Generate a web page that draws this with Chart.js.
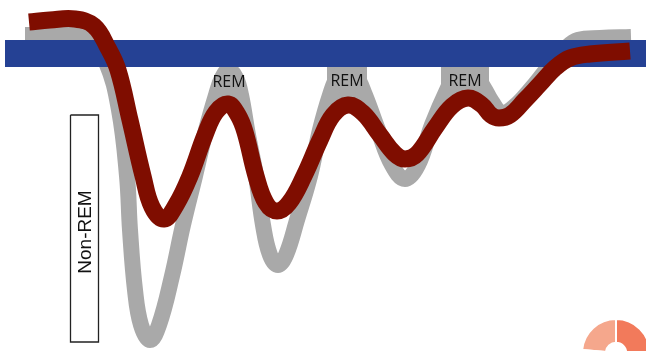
<!DOCTYPE html>
<html>
<head>
<meta charset="utf-8">
<script src="https://cdn.jsdelivr.net/npm/chart.js@4"></script>
<style>
html, body { margin: 0; padding: 0; background: #fff; overflow: hidden; width: 646px; height: 351px; }
#sleep_chart { position: absolute; left: 0; top: 0; }
#logo_chart { position: absolute; left: 581px; top: 318px; }
</style>
</head>
<body>
<canvas id="sleep_chart" width="646" height="351"></canvas>
<canvas id="logo_chart" width="70" height="70"></canvas>
<script>
// values, x = time, y = depth (grows downwards)
var greyX = [25, 60, 88, 106, 119, 127, 130, 135, 141, 150, 159, 172, 183, 195, 206, 216, 222, 229, 236, 241, 248, 256, 263, 270, 278, 286, 297, 310, 320, 330, 338, 347, 356, 365, 378, 392, 405, 418, 432, 448, 456, 465, 474, 484, 492, 502, 515, 530, 548, 566, 578, 600, 631];
var greyY = [35, 35, 37, 62, 110, 176, 230, 290, 325, 340, 325, 276, 225, 176, 130, 95, 78, 70, 78, 95, 135, 176, 225, 255, 265, 255, 220, 176, 130, 95, 76, 70, 76, 95, 130, 165, 179, 165, 125, 88, 74, 70, 74, 88, 102, 113, 106, 90, 68, 48, 40, 38, 37];

var redX = [29, 50, 75, 94, 108, 118, 130, 143, 152, 164, 176, 190, 205, 216, 228, 238, 245, 256, 266, 277, 289, 304, 320, 333, 348, 363, 380, 395, 405, 417, 435, 452, 468, 482, 491, 499, 510, 525, 540, 555, 570, 590, 630];
var redY = [22, 20, 19, 26, 48, 70, 120, 176, 207, 219, 205, 176, 135, 112, 104, 115, 132, 176, 203, 211, 203, 176, 140, 115, 105, 113, 135, 154, 159, 154, 128, 106, 98, 105, 115, 118, 115, 100, 84, 68, 58, 54, 51];

var bandX = [5, 646];
var bandY = [53.5, 53.5];

var remX = [229, 347, 465];
var remTop = [67, 67, 67];
var remBottom = [100, 105, 104];
var remLabelY = [82, 81, 81];
var remLabels = ["REM", "REM", "REM"];

var boxX = [70.5, 98.5, 98.5, 70.5, 70.5];
var boxY = [115, 115, 342, 342, 115];
var boxLabel = "Non-REM";

var logoShares = [85, 90, 185];

function pts(xs, ys) {
    return xs.map(function (x, i) { return { x: x, y: ys[i] }; });
}

function patch(i, width) {
    return {
        data: [{ x: remX[i], y: remTop[i] }, { x: remX[i], y: remBottom[i] }],
        borderColor: "#a9a9a9",
        borderWidth: width,
        borderJoinStyle: "bevel",  // round join pokes out past the end on a vertical line
        pointRadius: 0,
        tension: 0,
        order: 5
    };
}

const textPlugin = {
    id: "textPlugin",
    afterDatasetsDraw: function (c) {
        var ctx = c.ctx, sx = c.scales.x, sy = c.scales.y;
        ctx.save();
        ctx.textAlign = "center";
        ctx.textBaseline = "middle";
        ctx.fillStyle = "#111";
        ctx.font = "16px 'Open Sans'";
        for (var i = 0; i < remX.length; i++) {
            ctx.fillText(remLabels[i], sx.getPixelForValue(remX[i]), sy.getPixelForValue(remLabelY[i]));
        }
        ctx.translate(sx.getPixelForValue(86), sy.getPixelForValue(232));
        ctx.rotate(-Math.PI / 2);
        ctx.font = "19px 'Liberation Sans'";
        ctx.fillText(boxLabel, 0, 0);
        ctx.restore();
    }
};

new Chart(document.getElementById("sleep_chart"), {
    type: "scatter",
    data: {
        datasets: [
            patch(0, 16),
            patch(1, 40),
            patch(2, 48),
            { data: pts(greyX, greyY), borderColor: "#a9a9a9", borderWidth: 16, tension: 0.4, order: 4 },
            { data: pts(bandX, bandY), borderColor: "#254194", borderWidth: 27, tension: 0, order: 3 },
            { data: pts(boxX, boxY), borderColor: "#222", borderWidth: 1.3, tension: 0, borderJoinStyle: "miter", order: 2 },
            { data: pts(redX, redY), borderColor: "#7f0d00", borderWidth: 17, tension: 0.4, order: 1 }
        ]
    },
    options: {
        responsive: false,
        animation: false,
        showLine: true,
        layout: { padding: 0 },
        elements: {
            point: { radius: 0 },
            line: { borderCapStyle: "butt", borderJoinStyle: "round" }
        },
        plugins: { legend: { display: false }, tooltip: { enabled: false } },
        scales: {
            x: { type: "linear", min: 0, max: 646, display: false },
            y: { type: "linear", min: 0, max: 351, reverse: true, display: false }
        }
    },
    plugins: [textPlugin]
});

new Chart(document.getElementById("logo_chart"), {
    type: "doughnut",
    data: {
        datasets: [{
            data: logoShares,
            backgroundColor: ["#f5a78c", "#f27a5b", "rgba(0,0,0,0)"],
            borderColor: "#fff",
            borderWidth: 2
        }]
    },
    options: {
        responsive: false,
        animation: false,
        cutout: "30%",
        rotation: -85,
        plugins: { legend: { display: false }, tooltip: { enabled: false } }
    }
});
</script>
</body>
</html>
